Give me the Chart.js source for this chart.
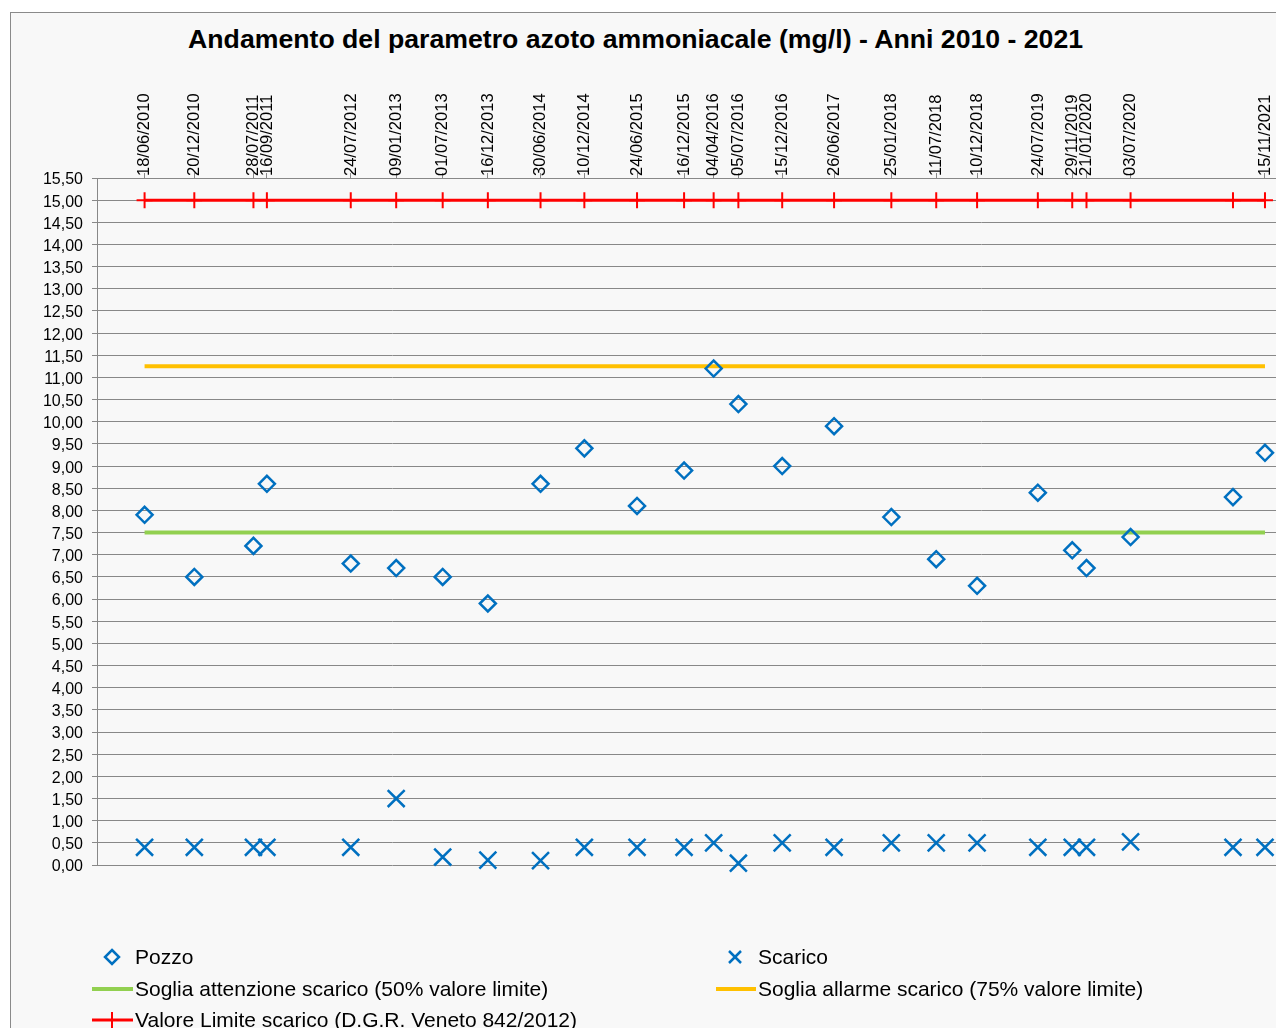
<!DOCTYPE html>
<html>
<head>
<meta charset="utf-8">
<script src="https://cdn.jsdelivr.net/npm/chart.js@4.4.1/dist/chart.umd.min.js"></script>
<style>
html,body{margin:0;padding:0;background:#fff;width:1276px;height:1028px;overflow:hidden;font-family:"Liberation Sans",Arial,sans-serif;}
#frame{position:absolute;left:10px;top:12px;width:1300px;height:1100px;border:1px solid #8a8a8a;background:#f8f8f8;}
#title{position:absolute;left:0;top:24px;width:1271px;text-align:center;font-weight:bold;font-size:26px;line-height:30px;color:#000;white-space:nowrap;}
#title span{display:inline-block;transform-origin:center center;}
#chart{position:absolute;left:0;top:0;}
.leg{position:absolute;font-size:21px;line-height:24px;color:#000;white-space:nowrap;}
#legicons{position:absolute;left:0;top:0;}
</style>
</head>
<body>
<div id="frame"></div>
<div id="title"><span id="titletext">Andamento del parametro azoto ammoniacale (mg/l) - Anni 2010 - 2021</span></div>
<canvas id="chart" width="1276" height="1028"></canvas>
<svg id="legicons" width="1276" height="1028">
  <polygon points="112,950 119,957 112,964 105,957" fill="none" stroke="#0070c0" stroke-width="2.5"/>
  <line x1="729" y1="951" x2="741" y2="963" stroke="#0070c0" stroke-width="2.5"/>
  <line x1="741" y1="951" x2="729" y2="963" stroke="#0070c0" stroke-width="2.5"/>
  <line x1="92" y1="989" x2="133" y2="989" stroke="#92d050" stroke-width="4"/>
  <line x1="716" y1="989" x2="756" y2="989" stroke="#ffc000" stroke-width="4"/>
  <line x1="92" y1="1020" x2="133" y2="1020" stroke="#ff0000" stroke-width="3"/>
  <line x1="112" y1="1012" x2="112" y2="1028" stroke="#ff0000" stroke-width="2"/>
</svg>
<div class="leg" style="left:135px;top:945px;">Pozzo</div>
<div class="leg" style="left:758px;top:945px;">Scarico</div>
<div class="leg" style="left:135px;top:977px;">Soglia attenzione scarico (50% valore limite)</div>
<div class="leg" style="left:758px;top:977px;">Soglia allarme scarico (75% valore limite)</div>
<div class="leg" style="left:135px;top:1008px;">Valore Limite scarico (D.G.R. Veneto 842/2012)</div>
<script>
// ---- data ----
const pointDates = ["18/06/2010","20/12/2010","28/07/2011","16/09/2011","24/07/2012","09/01/2013","01/07/2013","16/12/2013","30/06/2014","10/12/2014","24/06/2015","16/12/2015","04/04/2016","05/07/2016","15/12/2016","26/06/2017","25/01/2018","11/07/2018","10/12/2018","24/07/2019","29/11/2019","21/01/2020","03/07/2020","19/07/2021","15/11/2021"];
const tickDates = ["18/06/2010","20/12/2010","28/07/2011","16/09/2011","24/07/2012","09/01/2013","01/07/2013","16/12/2013","30/06/2014","10/12/2014","24/06/2015","16/12/2015","04/04/2016","05/07/2016","15/12/2016","26/06/2017","25/01/2018","11/07/2018","10/12/2018","24/07/2019","29/11/2019","21/01/2020","03/07/2020","15/11/2021"];
const pozzoValues = [7.90,6.50,7.20,8.60,6.80,6.70,6.50,5.90,8.60,9.40,8.10,8.90,11.20,10.40,9.00,9.90,7.85,6.90,6.30,8.40,7.10,6.70,7.40,8.30,9.30];
const scaricoValues = [0.40,0.40,0.40,0.40,0.40,1.50,0.18,0.11,0.10,0.40,0.40,0.40,0.50,0.04,0.50,0.40,0.50,0.50,0.50,0.40,0.40,0.40,0.52,0.40,0.40];
const limiteValues = [15,15,15,15,15,15,15,15,15,15,15,15,15,15,15,15,15,15,15,15,15,15,15,15,15];
const attenzioneValues = [7.5,7.5];
const allarmeValues = [11.25,11.25];
const thresholdDates = ["18/06/2010","15/11/2021"];
const xRange = ["23/12/2009","26/12/2021"];
const yMin = 0, yMax = 15.5, yStep = 0.5;

const dayNum = s => { const [dd,mm,yy] = s.split('/').map(Number); return Date.UTC(yy,mm-1,dd)/86400000; };
const pts = (dates, vals) => dates.map((d,i) => ({x: dayNum(d), y: vals[i]}));

const FONT = "'Liberation Sans', Arial, sans-serif";
const GRID = '#888888';

new Chart(document.getElementById('chart'), {
  type: 'scatter',
  data: {
    datasets: [
      { label: 'Pozzo', data: pts(pointDates, pozzoValues), showLine: false, clip: false,
        pointStyle: 'rectRot', pointRadius: 8, pointBorderWidth: 2.5,
        pointBorderColor: '#0070c0', pointBackgroundColor: 'rgba(0,0,0,0)' },
      { label: 'Scarico', data: pts(pointDates, scaricoValues), showLine: false, clip: false,
        pointStyle: 'crossRot', pointRadius: 12, pointBorderWidth: 2.5,
        pointBorderColor: '#0070c0', pointBackgroundColor: '#0070c0' },
      { label: 'Soglia attenzione scarico (50% valore limite)', data: pts(thresholdDates, attenzioneValues),
        showLine: true, borderColor: '#92d050', borderWidth: 4, pointRadius: 0 },
      { label: 'Soglia allarme scarico (75% valore limite)', data: pts(thresholdDates, allarmeValues),
        showLine: true, borderColor: '#ffc000', borderWidth: 4, pointRadius: 0 },
      { label: 'Valore Limite scarico (D.G.R. Veneto 842/2012)', data: pts(pointDates, limiteValues),
        showLine: true, borderColor: '#ff0000', borderWidth: 3, clip: false,
        pointStyle: 'cross', pointRadius: 8, pointBorderWidth: 2,
        pointBorderColor: '#ff0000', pointBackgroundColor: '#ff0000' }
    ]
  },
  options: {
    responsive: false,
    animation: false,
    devicePixelRatio: 1,
    layout: { autoPadding: false, padding: { left: 0, right: 0, top: 0, bottom: 163 } },
    plugins: { legend: { display: false }, title: { display: false }, tooltip: { enabled: false } },
    scales: {
      x: {
        type: 'linear', position: 'top',
        min: dayNum(xRange[0]), max: dayNum(xRange[1]),
        afterBuildTicks: s => { s.ticks = tickDates.map(t => ({ value: dayNum(t) })); },
        afterFit: s => { s.height = 178; s.paddingLeft = 0; s.paddingRight = 0; },
        ticks: { autoSkip: false, minRotation: 90, maxRotation: 90, padding: -3, labelOffset: 20,
          color: '#000', font: { family: FONT, size: 16.5 },
          callback: (v, i) => tickDates[i] },
        grid: { drawOnChartArea: false, tickLength: 5, color: GRID },
        border: { display: true, color: GRID }
      },
      y: {
        min: yMin, max: yMax,
        afterFit: s => { s.width = 97; s.paddingTop = 0; s.paddingBottom = 0; },
        ticks: { stepSize: yStep, autoSkip: false, padding: 9, labelOffset: 2, color: '#000',
          font: { family: FONT, size: 16 },
          callback: v => v.toFixed(2).replace('.', ',') },
        grid: { color: GRID, lineWidth: 1, tickLength: 5 },
        border: { display: true, color: GRID, width: 1 }
      }
    }
  }
});

// fit title width to reference span
const t = document.getElementById('titletext');
const w = t.getBoundingClientRect().width;
t.style.transform = 'scaleX(' + (895 / w) + ')';
</script>
</body>
</html>
